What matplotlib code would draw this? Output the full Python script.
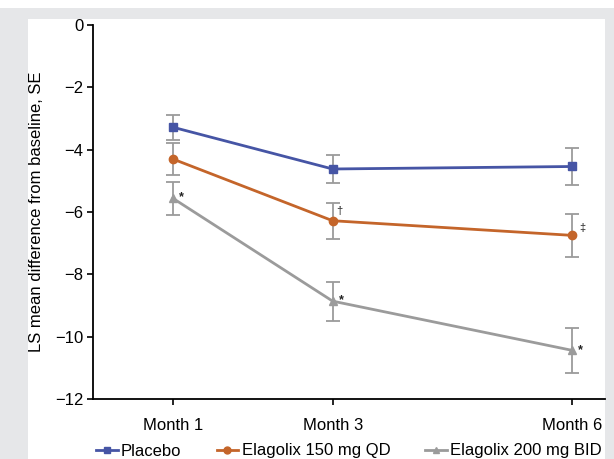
import matplotlib
matplotlib.use("Agg")
import matplotlib.pyplot as plt
from matplotlib.patches import Rectangle
from matplotlib.lines import Line2D

plt.rcParams['font.family'] = ['Liberation Sans', 'DejaVu Sans']

months = [1, 3, 6]
tick_labels = ["Month 1", "Month 3", "Month 6"]
series_names = ["Placebo", "Elagolix 150 mg QD", "Elagolix 200 mg BID"]
placebo = [-3.28, -4.62, -4.54]
placebo_se = [0.40, 0.46, 0.58]
ela150 = [-4.30, -6.28, -6.75]
ela150_se = [0.50, 0.58, 0.69]
ela200 = [-5.56, -8.86, -10.44]
ela200_se = [0.53, 0.63, 0.71]
# significance markers: (series index, month index, symbol)
sig_marks = [(2, 0, "*"), (2, 1, "*"), (2, 2, "*"), (1, 1, "\u2020"), (1, 2, "\u2021")]

colors = ["#4655a5", "#c4652a", "#9b9b9b"]
markers = ["s", "o", "^"]
msizes = [6, 6, 6]
err_color = "#9b9b9b"

W, H = 614, 459
fig = plt.figure(figsize=(W / 100, H / 100), dpi=100)
fig.patch.set_facecolor("white")
fig.patches.append(Rectangle((0, 0), 1, 1 - 8 / H, transform=fig.transFigure,
                             facecolor="#e6e7e9", edgecolor="none", zorder=-10))
fig.patches.append(Rectangle((28 / W, 0), (605 - 28) / W, 1 - 19 / H, transform=fig.transFigure,
                             facecolor="white", edgecolor="none", zorder=-9))

ax = fig.add_axes([93 / W, 1 - 399 / H, (605 - 93) / W, (399 - 25) / H])
ax.set_facecolor("none")

all_vals = [placebo, ela150, ela200]
all_se = [placebo_se, ela150_se, ela200_se]
for i, (vals, se) in enumerate(zip(all_vals, all_se)):
    ax.errorbar(months, vals, yerr=se, fmt="none", ecolor=err_color, elinewidth=1.3,
                capsize=5, capthick=1.3, zorder=2)
    ax.plot(months, vals, color=colors[i], marker=markers[i], markersize=msizes[i],
            linewidth=2, zorder=3, clip_on=False)

offsets = {"*": (6, 0.5), "\u2020": (4.5, 7), "\u2021": (7, 5.5)}
for si, mi, sym in sig_marks:
    ax.annotate(sym, (months[mi], all_vals[si][mi]), xytext=offsets[sym],
                textcoords="offset points", fontsize=9 if sym == "*" else 8,
                fontweight="bold" if sym == "*" else "normal", color="#222222",
                ha="center", va="center")

ax.set_xlim(0, 6.41)
ax.set_ylim(-12, 0)
ax.set_yticks([0, -2, -4, -6, -8, -10, -12])
ax.set_yticklabels(["0", "\u22122", "\u22124", "\u22126", "\u22128", "\u221210", "\u221212"])
ax.set_xticks(months)
ax.set_xticklabels(tick_labels)
ax.tick_params(axis="both", labelsize=12, length=4, width=1.2, direction="out", pad=3)
ax.tick_params(axis="x", pad=10)
for s in ["top", "right"]:
    ax.spines[s].set_visible(False)
for s in ["left", "bottom"]:
    ax.spines[s].set_linewidth(1.3)
ax.set_ylabel("LS mean difference from baseline, SE", fontsize=12, labelpad=8)

handles = [Line2D([], [], color=colors[i], marker=markers[i], markersize=msizes[i] - 1,
                  linewidth=2) for i in range(3)]
fig.legend(handles, series_names, loc="center", bbox_to_anchor=(349 / W, 1 - 451 / H),
           ncol=3, frameon=False, fontsize=12, handlelength=1.3, handletextpad=0.2,
           columnspacing=2.1, borderpad=0, borderaxespad=0)

fig.savefig("out.png", dpi=100)
